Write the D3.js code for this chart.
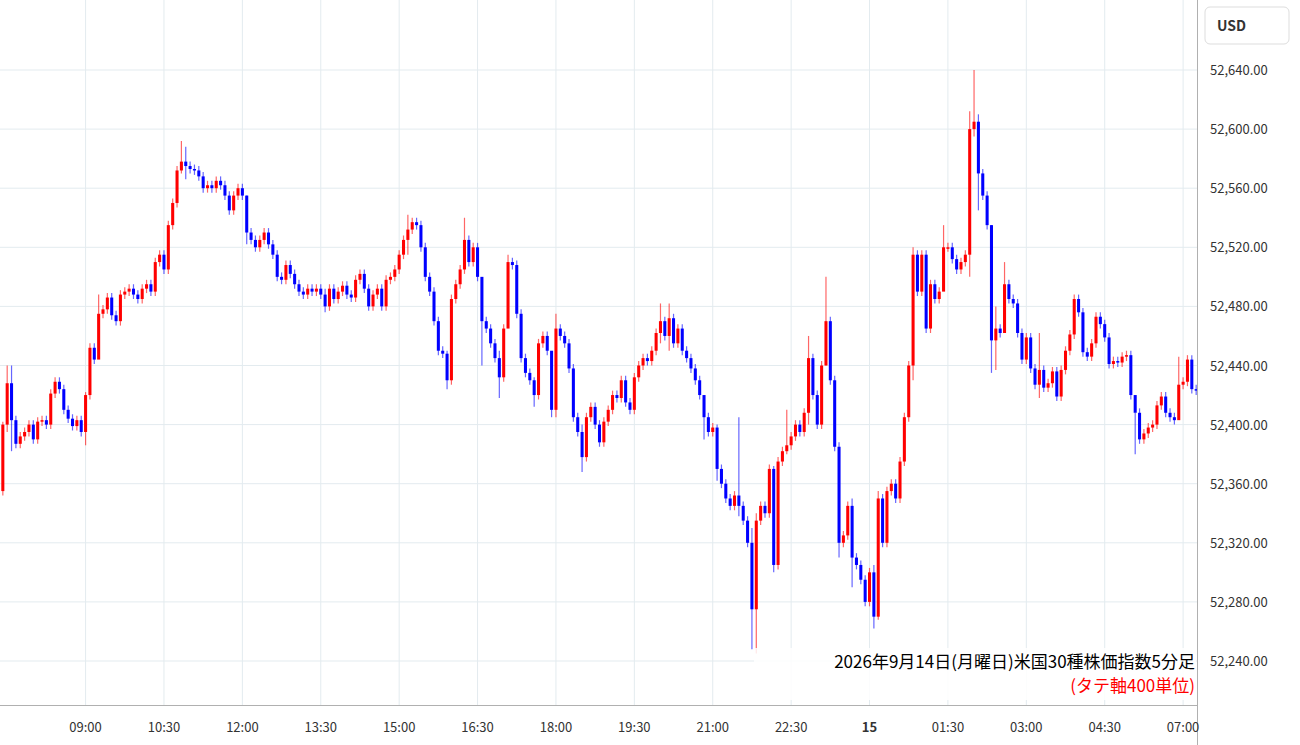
<!DOCTYPE html>
<html><head><meta charset="utf-8">
<script src="https://cdn.jsdelivr.net/npm/d3@7"></script>
<style>body{margin:0;background:#fff;font-family:"Noto Sans CJK JP","Noto Sans",sans-serif}</style>
</head><body>
<script>
// 5分足 終値（始値は前の足の終値）
var firstOpen = 52355;
var closes = [
52400,52428,52403,52387,52392,52395,52400,52390,52402,52403,
52400,52421,52429,52424,52410,52404,52399,52403,52395,52420,
52452,52444,52475,52478,52486,52474,52470,
52488,52490,52492,52488,52485,52492,52495,52490,52510,52515,
52505,52535,52550,52572,52578,52575,52573,52572,52568,52560,52562,
52560,52565,52562,52555,52545,52555,52560,52555,52530,52525,
52520,52525,52530,52522,52515,52500,52498,52508,52502,52495,
52490,52488,52492,52490,52492,52488,52480,52492,52485,52490,
52494,52488,52486,52498,52502,52492,52480,52488,52492,52480,52498,
52500,52505,52515,52525,52532,52537,52535,52520,52500,52490,
52470,52450,52448,52430,52485,52495,52505,52525,52510,52520,
52500,52470,52465,52455,52445,52432,52465,52510,52508,52475,
52445,52435,52430,52420,52455,52460,52450,52410,52465,52460,
52455,52438,52405,52395,52378,52405,52412,52400,52388,52402,
52410,52420,52418,52430,52415,52410,52432,52440,52445,52443,
52450,52462,52470,52460,52472,52455,52465,52450,52445,52438,
52430,52420,52405,52395,52398,52370,52360,52350,52345,
52352,52345,52335,52320,52275,52335,52345,52340,52370,
52305,52375,52382,52386,52392,52400,52395,52408,52445,52420,
52400,52440,52470,52430,52385,52320,52325,52345,52310,52305,
52295,52280,52300,52270,52350,52320,52355,52360,52350,52375,
52405,52440,52515,52490,52515,52465,52495,52485,
52490,52520,52520,52512,52505,52510,52515,52600,52605,52570,
52555,52535,
52457,52465,52462,52495,52485,52482,52462,52444,52459,52438,
52427,52437,52425,52428,52436,52419,52437,52450,52461,52485,
52476,52449,52446,52455,52473,52468,52459,52441,52443,52442,
52446,52447,52420,52408,52390,52394,52398,52400,52413,52419,
52408,52405,52403,52427,52429,52444,52424,52423
];
// 目立つヒゲ [足番号, 高値, 安値]
var wicks = [
[0,52402,52352],[1,52440,52395],[2,52440,52382],[19,52422,52386],[22,52488,52450],
[41,52592,52570],[42,52588,52566],[56,52555,52522],[74,52492,52476],
[93,52542,52515],[102,52450,52424],[106,52540,52502],[110,52480,52440],[114,52450,52418],
[116,52515,52480],[122,52432,52412],[126,52440,52405],[127,52475,52405],[133,52400,52368],
[151,52482,52455],[153,52482,52450],[161,52415,52390],[164,52400,52362],[169,52405,52338],
[172,52330,52248],[173,52340,52245],[177,52372,52300],[180,52410,52380],[185,52460,52400],
[189,52500,52440],[192,52388,52310],[195,52350,52290],[200,52305,52262],[201,52355,52268],
[209,52520,52430],[216,52535,52505],[222,52612,52500],[223,52640,52595],[224,52610,52545],
[227,52535,52435],[228,52480,52437],[230,52510,52478],[238,52462,52418],[260,52408,52380],[270,52446,52425]
];
var priceTicks = [52240,52280,52320,52360,52400,52440,52480,52520,52560,52600,52640];
var timeTicks = ["09:00","10:30","12:00","13:30","15:00","16:30","18:00","19:30","21:00","22:30","00:00","01:30","03:00","04:30","07:00"];

var W = 1300, H = 745, plotW = 1197, plotH = 705, step = 4.36;
var svg = d3.select("body").append("svg").attr("width", W).attr("height", H);

// 時刻（07:25開始、05:00-06:00は休場）
var times = [], t = 7*60+25;
closes.forEach(function(){ var m = t % 1440; times.push(m); t += 5; if (t % 1440 == 5*60) t += 60; });
function fmt(m){ return d3.format("02")(Math.floor(m/60)) + ":" + d3.format("02")(m%60); }

var data = closes.map(function(c, i){
	var o = i ? closes[i-1] : firstOpen;
	var hi = Math.max(o, c) + 3, lo = Math.min(o, c) - 3;
	return { i:i, o:o, c:c, h:hi, l:lo, time:fmt(times[i]) };
});
wicks.forEach(function(w){ data[w[0]].h = w[1]; data[w[0]].l = w[2]; });

var x = d3.scaleBand().domain(data.map(function(d){ return d.i; })).range([0, closes.length*step]).padding(0.3);
var y = d3.scaleLinear().domain([52240, 52640]).range([661, 70]);
var cx = function(d){ return x(d.i) + x.bandwidth()/2; };

// grid
svg.append("g").selectAll("line").data(priceTicks).enter().append("line")
	.attr("x1", 0).attr("x2", plotW).attr("y1", y).attr("y2", y)
	.attr("stroke", "#e3ebef");
var tickData = data.filter(function(d){ return timeTicks.indexOf(d.time) >= 0; });
svg.append("g").selectAll("line").data(tickData).enter().append("line")
	.attr("x1", cx).attr("x2", cx)
	.attr("y1", 0).attr("y2", plotH).attr("stroke", "#e3ebef");

// candles
var col = function(d){ return d.c >= d.o ? "#ff0000" : "#0000ff"; };
var g = svg.append("g");
var node = g.selectAll("g").data(data).enter().append("g");
node.append("line")
	.attr("x1", cx).attr("x2", cx)
	.attr("y1", function(d){ return y(d.h); }).attr("y2", function(d){ return y(d.l); })
	.attr("stroke", col).attr("stroke-opacity", 0.6).attr("stroke-width", 1.2);
node.append("rect")
	.attr("x", function(d){ return x(d.i); }).attr("width", x.bandwidth())
	.attr("y", function(d){ return y(Math.max(d.o, d.c)); })
	.attr("height", function(d){ return Math.max(1.5, Math.abs(y(d.o) - y(d.c))); })
	.attr("fill", col);

// axes frame
svg.append("rect").attr("x", plotW+1).attr("y", 0).attr("width", W-plotW).attr("height", H).attr("fill", "#fff");
svg.append("line").attr("x1", plotW+0.5).attr("x2", plotW+0.5).attr("y1", 0).attr("y2", H).attr("stroke", "#b0b0b0");
svg.append("line").attr("x1", 0).attr("x2", plotW).attr("y1", plotH+0.5).attr("y2", plotH+0.5).attr("stroke", "#b0b0b0");

svg.append("g").selectAll("text").data(priceTicks).enter().append("text")
	.attr("x", 1210).attr("y", function(d){ return y(d) + 5; })
	.attr("font-size", 13).attr("fill", "#333")
	.text(d3.format(",.2f"));

svg.append("g").selectAll("text").data(tickData).enter().append("text")
	.attr("x", cx).attr("y", 732)
	.attr("text-anchor", "middle").attr("font-size", 13).attr("fill", "#333")
	.attr("font-weight", function(d){ return d.time == "00:00" ? "bold" : null; })
	.text(function(d){ return d.time == "00:00" ? "15" : d.time; });

svg.append("rect").attr("x", 1205).attr("y", 7).attr("width", 84).attr("height", 37)
	.attr("rx", 5).attr("fill", "#fff").attr("stroke", "#ddd");
svg.append("text").attr("x", 1217).attr("y", 31).attr("font-size", 14).attr("font-weight", "bold")
	.attr("fill", "#333").text("USD");

// 注記
svg.append("rect").attr("x", 754).attr("y", 648).attr("width", 442).attr("height", 52).attr("fill", "#fff").attr("fill-opacity", 0.85);
svg.append("text").attr("x", 1195).attr("y", 668).attr("text-anchor", "end").attr("font-size", 17)
	.attr("fill", "#000").text("2026年9月14日(月曜日)米国30種株価指数5分足");
svg.append("text").attr("x", 1195).attr("y", 692).attr("text-anchor", "end").attr("font-size", 17)
	.attr("fill", "#ff0000").text("(タテ軸400単位)");
</script>
</body></html>
